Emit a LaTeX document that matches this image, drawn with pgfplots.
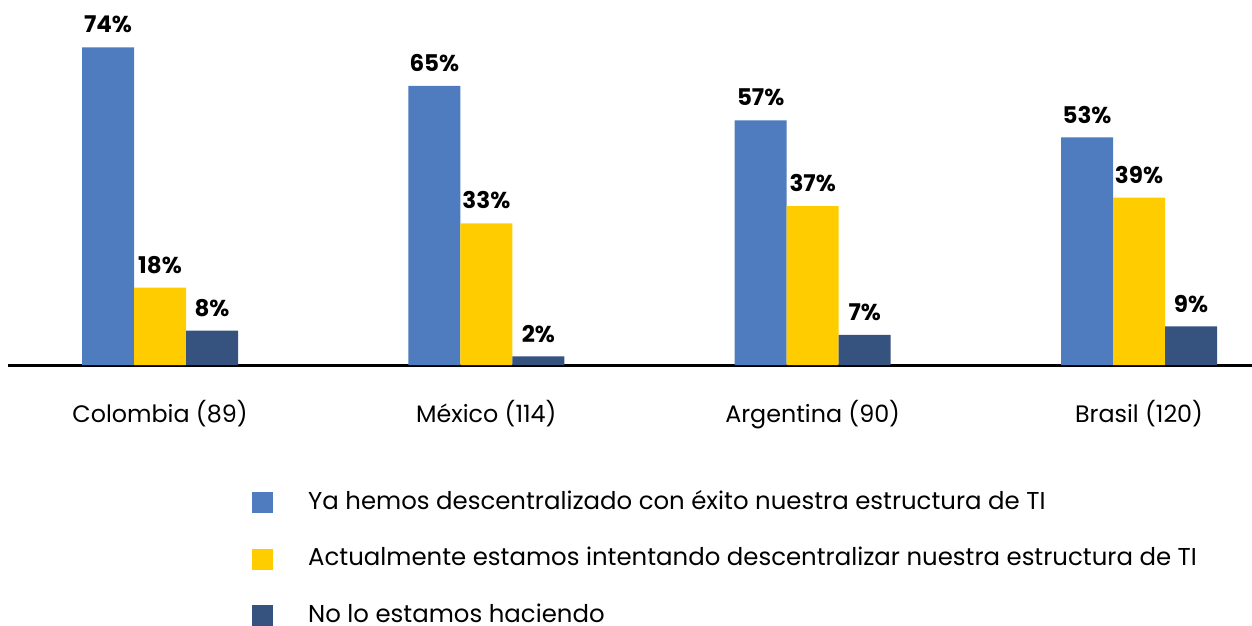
\documentclass[border=0pt]{standalone}
\usepackage{pgfplots}
\pgfplotsset{compat=1.18}
\usepackage{fontspec}
\setmainfont{Poppins}
\definecolor{cblue}{HTML}{4F7BBF}
\definecolor{cyellow}{HTML}{FFCC00}
\definecolor{cnavy}{HTML}{36527E}
\pgfplotsset{sqleg/.style={legend image code/.code={\fill[##1] (0pt,-5.25pt) rectangle (10.5pt,5.25pt);}}}
\begin{document}
\begin{tikzpicture}
\path[use as bounding box] (0,0) rectangle (626pt,-313pt);
\begin{axis}[
  at={(4pt,-182.5pt)}, anchor=south west,
  scale only axis, width=622pt, height=182.5pt,
  xmin=-0.4658, xmax=3.3463, ymin=0, ymax=85,
  ybar=0pt, bar width=26pt,
  axis x line=bottom, axis y line=none,
  x axis line style={line width=1.5pt, -},
  xtick={0,1,2,3},
  xticklabels={Colombia (89), México (114), Argentina (90), Brasil (120)},
  major tick length=0pt,
  xticklabel style={anchor=base, yshift=-28.5pt, font=\fontsize{11.9}{14}\selectfont},
  /pgf/number format/assume math mode=true,
  nodes near coords={\pgfmathprintnumber{\pgfplotspointmeta}\%},
  every node near coord/.append style={font=\bfseries\fontsize{11.5}{14}\selectfont, yshift=3.5pt},
  legend style={at={(0.1963,-0.346)}, anchor=north west, draw=none, fill=none,
    inner sep=0pt, outer sep=0pt,
    font=\fontsize{12.2}{14}\selectfont, row sep=16.7pt,
    nodes={inner sep=0pt, text height=9pt, text depth=2.5pt},
    /tikz/every even column/.append style={column sep=0pt},
    /tikz/every odd column/.append style={column sep=17.5pt}},
  legend cell align=left,
]
\addplot[fill=cblue, draw=none, sqleg] coordinates {(0,74) (1,65) (2,57) (3,53)};
\addplot[fill=cyellow, draw=none, sqleg] coordinates {(0,18) (1,33) (2,37) (3,39)};
\addplot[fill=cnavy, draw=none, sqleg] coordinates {(0,8) (1,2) (2,7) (3,9)};
\legend{Ya hemos descentralizado con éxito nuestra estructura de TI,
Actualmente estamos intentando descentralizar nuestra estructura de TI,
No lo estamos haciendo}
\end{axis}
\end{tikzpicture}
\end{document}
